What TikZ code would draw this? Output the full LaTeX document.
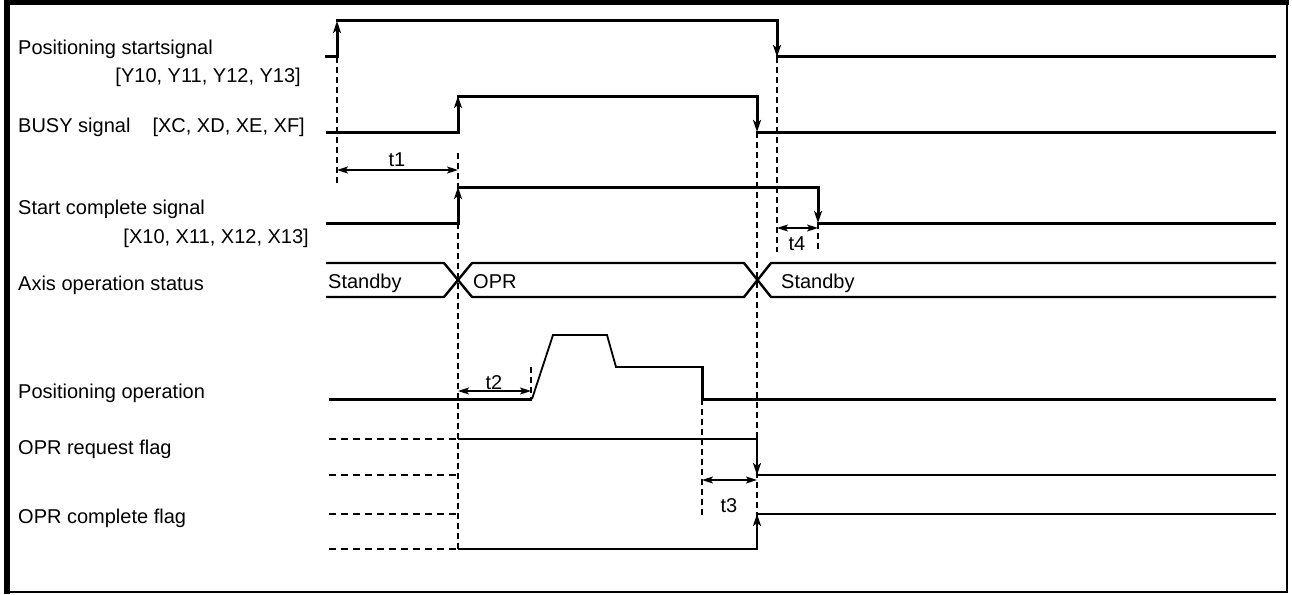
\documentclass[tikz,border=0pt]{standalone}
\usepackage{fontspec}
\setmainfont{Liberation Sans}
\usetikzlibrary{arrows.meta}
\tikzset{
  sig/.style={line width=3pt, line cap=butt, line join=miter},
  sigthin/.style={line width=1.8pt, line join=miter},
  flag/.style={line width=2.4pt, line join=miter},
  flagdash/.style={line width=2.2pt, dash pattern=on 7pt off 5pt},
  guide/.style={line width=1.3pt, dash pattern=on 6pt off 4pt},
  dimarrow/.style={line width=1.3pt, {Stealth[length=11pt,width=7pt,inset=2.5pt]}-{Stealth[length=11pt,width=7pt,inset=2.5pt]}},
  edgetip/.style={-{Stealth[length=12pt,width=8pt,inset=3pt]}},
  lbl/.style={font=\fontsize{20}{24}\selectfont, inner sep=0pt},
}
\begin{document}
\begin{tikzpicture}[x=1pt,y=-1pt]
\useasboundingbox (0,0) rectangle (1292,594);
% frame
\fill (4,0) rectangle (10,594);
\fill (4,0) rectangle (1289,5);
\draw[line width=2.5pt] (1287,3) -- (1287,592) -- (7,592);

% labels
\node[lbl, anchor=base west] (lps) at (18,55) {Positioning startsignal};
\node[lbl, anchor=base east] (lpsb) at (301,82) {[Y10, Y11, Y12, Y13]};
\node[lbl, anchor=base west] (lbusy) at (18,132) {BUSY signal};
\node[lbl, anchor=base east] (lbusyb) at (305,132) {[XC, XD, XE, XF]};
\node[lbl, anchor=base west] (lsc) at (18,214) {Start complete signal};
\node[lbl, anchor=base east] (lscb) at (309,243) {[X10, X11, X12, X13]};
\node[lbl, anchor=base west] (lax) at (18,290) {Axis operation status};
\node[lbl, anchor=base west] (lpo) at (18,398) {Positioning operation};
\node[lbl, anchor=base west] (lrq) at (18,454) {OPR request flag};
\node[lbl, anchor=base west] (lcp) at (18,523) {OPR complete flag};

% guides
\draw[guide] (337,57) -- (337,183);
\draw[guide] (458,153) -- (458,549);
\draw[guide] (531,367) -- (531,399);
\draw[guide] (702,399) -- (702,515);
\draw[guide] (757,132) -- (757,549);
\draw[guide] (777,57) -- (777,252);
\draw[guide] (818,223) -- (818,252);

% positioning start signal
\draw[sig] (325,57) -- (338.5,57);
\draw[sig, edgetip] (337,58.5) -- (337,21);
\draw[sig] (335.5,21) -- (777,21);
\draw[sig, edgetip] (777,19.5) -- (777,57);
\draw[sig] (775.5,57) -- (1276,57);

% BUSY
\draw[sig] (326,132) -- (459.5,132);
\draw[sig, edgetip] (458,133.5) -- (458,96);
\draw[sig] (456.5,96) -- (757,96);
\draw[sig, edgetip] (757,94.5) -- (757,132);
\draw[sig] (755.5,132) -- (1276,132);

% start complete
\draw[sig] (326,223) -- (459.5,223);
\draw[sig, edgetip] (458,224.5) -- (458,187);
\draw[sig] (456.5,187) -- (818,187);
\draw[sig, edgetip] (818,185.5) -- (818,223);
\draw[sig] (816.5,223) -- (1276,223);

% axis operation status
\draw[flag] (326,263) -- (444,263) -- (472,297) -- (744,297) -- (771,263) -- (1276,263);
\draw[flag] (326,297) -- (444,297) -- (472,263) -- (744,263) -- (771,297) -- (1276,297);
\node[lbl, anchor=base west] (s1) at (328,288) {Standby};
\node[lbl, anchor=base west] (s2) at (473,288) {OPR};
\node[lbl, anchor=base west] (s3) at (781,288) {Standby};

% positioning operation
\draw[sig] (329,399) -- (532,399);
\draw[sigthin] (532,399) -- (553,335) -- (607,335) -- (616,367);
\draw[flag] (615,367) -- (702,367);
\draw[sig] (702,366) -- (702,399) -- (1276,399);

% OPR request flag
\draw[flagdash] (329,439) -- (458,439);
\draw[flagdash] (329,475) -- (458,475);
\draw[flag] (458,439) -- (757,439);
\draw[flag, edgetip] (757,437.8) -- (757,475);
\draw[flag] (755.8,475) -- (1276,475);

% OPR complete flag
\draw[flagdash] (329,514) -- (458,514);
\draw[flagdash] (329,549) -- (458,549);
\draw[flag] (458,549) -- (757,549);
\draw[flag, edgetip] (757,550.2) -- (757,514);
\draw[flag] (755.8,514) -- (1276,514);

% dimension arrows
\coordinate (t1a) at (337,170); \coordinate (t1b) at (458,170);
\draw[dimarrow] (t1a) -- (t1b);
\node[lbl, anchor=base] (t1) at (397,166) {t1};
\coordinate (t2a) at (458,391); \coordinate (t2b) at (531,391);
\draw[dimarrow] (t2a) -- (t2b);
\node[lbl, anchor=base] (t2) at (494,389) {t2};
\coordinate (t3a) at (702,480); \coordinate (t3b) at (757,480);
\draw[dimarrow] (t3a) -- (t3b);
\node[lbl, anchor=base] (t3) at (729,512) {t3};
\coordinate (t4a) at (777,228); \coordinate (t4b) at (818,228);
\draw[dimarrow] (t4a) -- (t4b);
\node[lbl, anchor=base] (t4) at (797,250) {t4};
\end{tikzpicture}
\end{document}
